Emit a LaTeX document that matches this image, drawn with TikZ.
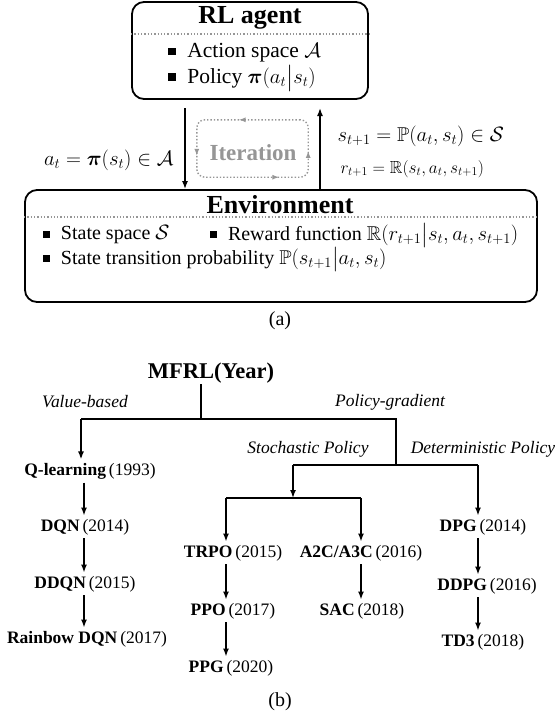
\documentclass[tikz,border=0pt]{standalone}
\usepackage{amsmath}
\usepackage{amssymb}
\usepackage{bm}
\usepackage{fontspec}
\setmainfont{Liberation Serif}
\usepackage{tikz}
\usetikzlibrary{arrows,arrows.meta,positioning,calc,decorations.markings}

\newcommand{\titlefont}{\fontsize{26}{30}\selectfont\bfseries}
\newcommand{\bodyfont}{\fontsize{20}{24}\selectfont}
\newcommand{\agentfont}{\fontsize{21.5}{25}\selectfont}
\newcommand{\treefont}{\fontsize{17.5}{21}\selectfont}
\newcommand{\sqb}{\rule[0.12em]{0.34em}{0.34em}\hspace{0.55em}}
\newcommand{\alg}[2]{\textbf{#1}\,(#2)}
\definecolor{loopgray}{RGB}{150,150,150}

\begin{document}
\begin{tikzpicture}[x=1pt,y=-1pt,
  panel/.style={draw,line width=1.8pt,rounded corners=12pt,inner sep=0pt},
  sepline/.style={draw=loopgray,dotted,line width=1.3pt},
  flow/.style={-{Latex[length=8pt,width=6pt]},line width=1.5pt},
  branch/.style={line width=1.4pt},
  item/.style={anchor=west,inner sep=0pt,font=\bodyfont},
  algo/.style={font=\treefont},
  kind/.style={font=\treefont\itshape,inner sep=1pt},
  looppath/.style={draw=loopgray,dotted,line width=1.4pt,rounded corners=8pt,
    decoration={markings,
      mark=at position 0.19 with {\arrow{Latex[length=7pt,width=5pt]}},
      mark=at position 0.42 with {\arrow{Latex[length=7pt,width=5pt]}},
      mark=at position 0.73 with {\arrow{Latex[length=7pt,width=5pt]}},
      mark=at position 0.89 with {\arrow{Latex[length=7pt,width=5pt]}}},
    postaction={decorate}}]
\useasboundingbox (0,0) rectangle (556,721);

% (a) agent and environment
\node[panel,minimum width=236pt,minimum height=97pt] (agent) at (250,50.5) {};
\node[font=\titlefont] (agenttitle) at (250,18) {RL agent};
\coordinate (sepA) at (0,34);
\draw[sepline] (agent.west |- sepA) -- (agent.east |- sepA);
\node[item,font=\agentfont] (actspace) at (168,53) {\sqb Action space $\mathcal{A}$};
\node[item,font=\agentfont] (policy) at (168,78) {\sqb Policy $\bm{\pi}(a_t\big|s_t)$};

\node[panel,minimum width=512pt,minimum height=112pt] (env) at (281,246) {};
\node[font=\titlefont] (envtitle) at (280,205) {Environment};
\coordinate (sepE) at (0,217);
\draw[sepline] (env.west |- sepE) -- (env.east |- sepE);
\node[item] (statesp) at (43,235) {\sqb State space $\mathcal{S}$};
\node[item] (reward) at (210,235) {\sqb Reward function $\mathbb{R}(r_{t+1}\big|s_t,a_t,s_{t+1})$};
\node[item] (trans) at (43,259) {\sqb State transition probability $\mathbb{P}(s_{t+1}\big|a_t,s_t)$};

\coordinate (down) at (185,108);
\coordinate (up) at (320,108);
\draw[flow] (down) -- (down |- env.north);
\draw[flow] (up |- env.north) -- (up);
\node[anchor=east,font=\bodyfont] (action) at (177,160) {$a_t=\bm{\pi}(s_t)\in\mathcal{A}$};
\node[anchor=west,font=\bodyfont] (nextstate) at (334,136) {$s_{t+1}=\mathbb{P}(a_t,s_t)\in\mathcal{S}$};
\node[anchor=west,font=\treefont] (nextrew) at (337,169) {$r_{t+1}=\mathbb{R}(s_t,a_t,s_{t+1})$};

\node[minimum width=111pt,minimum height=57pt,inner sep=0pt] (iter) at (252.5,148.5) {};
\node[text=loopgray,font=\fontsize{23}{26}\selectfont\bfseries] (itertext) at (253,153) {Iteration};
\draw[looppath] (iter.north east) -- (iter.north west) -- (iter.south west)
  -- (iter.south east) -- cycle;

\node[font=\bodyfont] (capa) at (280,321) {(a)};

% (b) MFRL tree
\node[font=\fontsize{22.5}{26}\selectfont\bfseries,inner sep=1pt] (root) at (211,373) {MFRL(Year)};
\node[kind] (valbased) at (85,402) {Value-based};
\node[kind] (polgrad) at (390,402) {Policy-gradient};
\node[kind] (stoch) at (308,449) {Stochastic Policy};
\node[kind] (determ) at (483,449) {Deterministic Policy};

\coordinate (rootj) at (201,419);
\coordinate (h1l) at (81,419);
\coordinate (h1r) at (396,419);
\coordinate (h2l) at (293,465);
\coordinate (h2r) at (478,465);
\coordinate (h3) at (293,498);
\coordinate (h3l) at (226,498);
\coordinate (h3r) at (361,498);
\coordinate (lcol) at (84,0);

\node[algo] (qlearn) at (90,471) {\alg{Q-learning}{1993}};
\node[algo] (dqn) at (85,527) {\alg{DQN}{2014}};
\node[algo] (ddqn) at (85,584) {\alg{DDQN}{2015}};
\node[algo] (rainbow) at (87,639) {\alg{Rainbow DQN}{2017}};
\node[algo] (trpo) at (233,553) {\alg{TRPO}{2015}};
\node[algo] (ppo) at (233,611) {\alg{PPO}{2017}};
\node[algo] (ppg) at (231,668) {\alg{PPG}{2020}};
\node[algo] (a2c) at (361,553) {\alg{A2C/A3C}{2016}};
\node[algo] (sac) at (362,611) {\alg{SAC}{2018}};
\node[algo] (dpg) at (483,527) {\alg{DPG}{2014}};
\node[algo] (ddpg) at (487,586) {\alg{DDPG}{2016}};
\node[algo] (td3) at (483,642) {\alg{TD3}{2018}};

\draw[branch] (rootj |- root.south) -- (rootj);
\draw[branch] (h1l) -- (h1r) -- (h1r |- h2l);
\draw[branch] (h2l) -- (h2r);
\draw[branch] (h3l) -- (h3r);
\draw[flow] (h1l) -- (h1l |- qlearn.north);
\draw[flow] (h2l) -- (h3);
\draw[flow] (h3l) -- (h3l |- trpo.north);
\draw[flow] (h3r) -- (h3r |- a2c.north);
\draw[flow] (h2r) -- (h2r |- dpg.north);

\draw[flow] (lcol |- qlearn.south) -- (lcol |- dqn.north);
\draw[flow] (lcol |- dqn.south) -- (lcol |- ddqn.north);
\draw[flow] (lcol |- ddqn.south) -- (lcol |- rainbow.north);
\draw[flow] (h3l |- trpo.south) -- (h3l |- ppo.north);
\draw[flow] (h3l |- ppo.south) -- (h3l |- ppg.north);
\draw[flow] (h3r |- a2c.south) -- (h3r |- sac.north);
\draw[flow] (h2r |- dpg.south) -- (h2r |- ddpg.north);
\draw[flow] (h2r |- ddpg.south) -- (h2r |- td3.north);

\node[font=\bodyfont] (capb) at (280,702) {(b)};
\end{tikzpicture}
\end{document}
